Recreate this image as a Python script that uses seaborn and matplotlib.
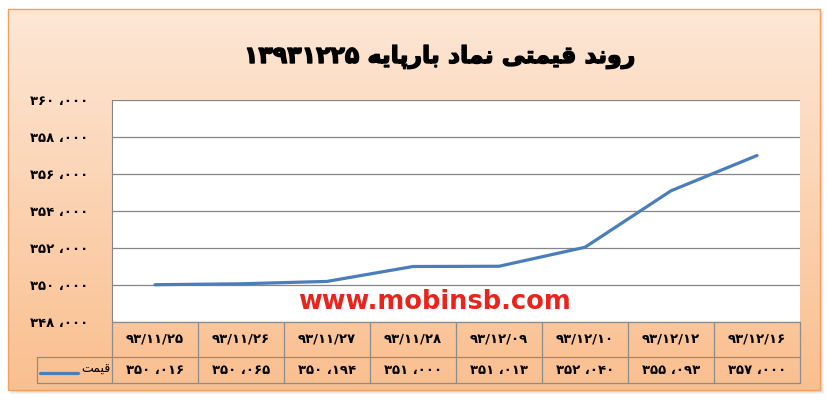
import matplotlib

matplotlib.use("Agg")
import matplotlib.patheffects as pe
import matplotlib.pyplot as plt
import numpy as np
import pandas as pd
import seaborn as sns
from matplotlib.patches import Rectangle

# %% Data
dates = ["۹۳/۱۱/۲۵", "۹۳/۱۱/۲۶", "۹۳/۱۱/۲۷", "۹۳/۱۱/۲۸",
         "۹۳/۱۲/۰۹", "۹۳/۱۲/۱۰", "۹۳/۱۲/۱۲", "۹۳/۱۲/۱۶"]
prices = [350016, 350065, 350194, 351000, 351013, 352040, 355093, 357000]
y_ticks = [348000, 350000, 352000, 354000, 356000, 358000, 360000]
title_text = "روند قیمتی نماد بارپایه"
title_num = "۱۳۹۳۱۲۲۵"
series_name = "قیمت"
watermark = "www.mobinsb.com"

# %% Minimal Persian shaping (matplotlib has no bidi / joining)
FORMS = {
    # isolated, final, initial, medial
    "ب": ("\uFE8F", "\uFE90", "\uFE91", "\uFE92"),
    "پ": ("\uFB56", "\uFB57", "\uFB58", "\uFB59"),
    "ت": ("\uFE95", "\uFE96", "\uFE97", "\uFE98"),
    "ق": ("\uFED5", "\uFED6", "\uFED7", "\uFED8"),
    "م": ("\uFEE1", "\uFEE2", "\uFEE3", "\uFEE4"),
    "ن": ("\uFEE5", "\uFEE6", "\uFEE7", "\uFEE8"),
    "ه": ("\uFEE9", "\uFEEA", "\uFEEB", "\uFEEC"),
    "ی": ("\uFBFC", "\uFBFD", "\uFBFE", "\uFBFF"),
    # right-joining only
    "ا": ("\uFE8D", "\uFE8E"),
    "د": ("\uFEA9", "\uFEAA"),
    "ر": ("\uFEAD", "\uFEAE"),
    "و": ("\uFEED", "\uFEEE"),
}


def shape(text):
    out = []
    for i, ch in enumerate(text):
        if ch not in FORMS:
            out.append(ch)
            continue
        prev = text[i - 1] if i > 0 else " "
        nxt = text[i + 1] if i + 1 < len(text) else " "
        joins_prev = prev in FORMS and len(FORMS[prev]) == 4
        joins_next = len(FORMS[ch]) == 4 and nxt in FORMS
        f = FORMS[ch]
        if joins_prev and joins_next:
            out.append(f[3])
        elif joins_prev:
            out.append(f[1])
        elif joins_next:
            out.append(f[2])
        else:
            out.append(f[0])
    # visual order is right-to-left
    return "".join(out)[::-1]


fa_digits = str.maketrans("0123456789", "۰۱۲۳۴۵۶۷۸۹")


def fa_num(v):
    return f"{v // 1000} ،{v % 1000:03d}".translate(fa_digits)


df = pd.DataFrame({"pos": np.arange(len(dates)), "price": prices})

# %% Figure
sns.set_style("white")
plt.rcParams["font.family"] = ["DejaVu Sans"]
plt.rcParams["text.color"] = "black"
plt.rcParams["ytick.color"] = "black"

W, H = 828, 400
fig = plt.figure(figsize=(W / 100, H / 100), dpi=100)
fig.patch.set_facecolor("white")


def fx(px):
    return px / W


def fy(py):
    return 1 - py / H


# background panel with soft shadow and peach gradient
bg = fig.add_axes([0, 0, 1, 1])
bg.set_xlim(0, W)
bg.set_ylim(H, 0)
bg.axis("off")
for k, a in enumerate([0.10, 0.12, 0.15]):
    bg.add_patch(Rectangle((10 + k, 11 + k), 814 - 2 * k, 383 - 2 * k,
                           facecolor="#9a9a9a", edgecolor="none", alpha=a))
top = np.array([253, 231, 214]) / 255
bot = np.array([250, 191, 143]) / 255
t = np.linspace(0, 1, 256)[:, None, None]
grad = top * (1 - t) + bot * t
bg.imshow(grad, extent=(8, 820, 390, 9), aspect="auto", zorder=1)
bg.add_patch(Rectangle((8, 9), 812, 381, facecolor="none",
                       edgecolor="#f0a060", lw=1, zorder=2))

fig.text(fx(440), fy(57), title_num + " " + shape(title_text),
         ha="center", va="center", fontsize=17, fontweight="heavy", color="black",
         path_effects=[pe.withStroke(linewidth=1.0, foreground="black")])

# %% Line chart
line_color = "#4a7ebb"
ax = fig.add_axes([fx(112), fy(322), fx(800) - fx(112), (322 - 100) / H])
ax.set_facecolor("white")
sns.lineplot(data=df, x="pos", y="price", color=line_color, lw=2.3, ax=ax, zorder=3)
ax.set_xlim(-0.5, len(dates) - 0.5)
ax.set_ylim(y_ticks[0], y_ticks[-1])
ax.set_xticks([])
ax.set_yticks(y_ticks)
ax.set_yticklabels([fa_num(v) for v in y_ticks], fontsize=9.5, fontweight="bold")
ax.tick_params(axis="y", length=0, pad=17)
ax.set_xlabel("")
ax.set_ylabel("")
ax.grid(axis="y", color="#868686", lw=0.9)
for s in ["top", "right", "bottom"]:
    ax.spines[s].set_visible(False)
ax.spines["left"].set_color("#868686")
ax.text(0.468, 0.09, watermark, transform=ax.transAxes, ha="center", va="center",
        color="#e8251c", fontsize=18.5, fontweight="heavy", zorder=4)

# %% Data table under the chart
tab = fig.add_axes([fx(112), fy(384), fx(800) - fx(112), (384 - 322) / H])
tab.set_xlim(-0.5, len(dates) - 0.5)
tab.set_ylim(62, 0)
tab.axis("off")
grid_c = "#8c8c8c"
leg_left = -0.5 - 75 / 86
for i in range(len(dates) + 1):
    tab.plot([i - 0.5, i - 0.5], [0, 61], color=grid_c, lw=0.9, clip_on=False)
tab.plot([-0.5, len(dates) - 0.5], [0, 0], color=grid_c, lw=0.9, clip_on=False)
tab.plot([leg_left, len(dates) - 0.5], [35, 35], color=grid_c, lw=0.9, clip_on=False)
tab.plot([leg_left, len(dates) - 0.5], [61, 61], color=grid_c, lw=0.9, clip_on=False)
tab.plot([leg_left, leg_left], [35, 61], color=grid_c, lw=0.9, clip_on=False)
for i, (d, p) in enumerate(zip(dates, prices)):
    tab.text(i, 17.5, d, ha="center", va="center", fontsize=9.5, fontweight="bold")
    tab.text(i, 48, fa_num(p), ha="center", va="center", fontsize=9.5, fontweight="bold")
tab.plot([leg_left + 0.04, leg_left + 0.48], [51, 51], color=line_color, lw=2.3,
         clip_on=False)
tab.text(-0.52, 47, shape(series_name), ha="right", va="center", fontsize=9)

fig.savefig("out.png", dpi=100, facecolor="white")
